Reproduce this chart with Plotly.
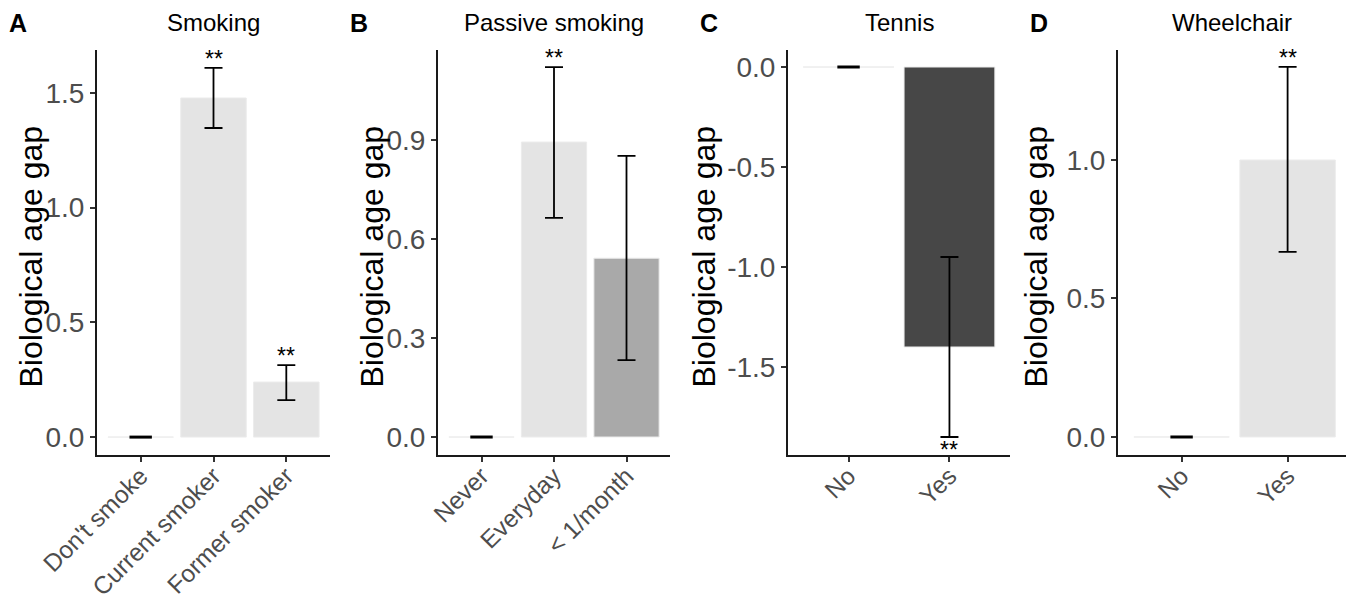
import plotly.graph_objects as go

# ---------------- data ----------------
smoking_cats = ["Don't smoke", "Current smoker", "Former smoker"]
smoking_vals = [0.0, 1.478, 0.240]
smoking_lo = [0.0, 1.347, 0.161]
smoking_hi = [0.0, 1.609, 0.314]
smoking_sig = ["", "**", "**"]

passive_cats = ["Never", "Everyday", "< 1/month"]
passive_vals = [0.0, 0.894, 0.542]
passive_lo = [0.0, 0.664, 0.233]
passive_hi = [0.0, 1.121, 0.852]
passive_sig = ["", "**", ""]

tennis_cats = ["No", "Yes"]
tennis_vals = [0.0, -1.40]
tennis_lo = [0.0, -1.85]
tennis_hi = [0.0, -0.95]
tennis_sig = ["", "**"]

wheel_cats = ["No", "Yes"]
wheel_vals = [0.0, 1.0]
wheel_lo = [0.0, 0.668]
wheel_hi = [0.0, 1.336]
wheel_sig = ["", "**"]

panel_titles = ["Smoking", "Passive smoking", "Tennis", "Wheelchair"]
panel_letters = ["A", "B", "C", "D"]
y_ticks = [[0, 0.5, 1.0, 1.5], [0, 0.3, 0.6, 0.9], [0, -0.5, -1.0, -1.5], [0, 0.5, 1.0]]

# ---------------- styles ----------------
W, H = 1346, 601
bar_colors = [
    ["#ececec", "#e4e4e4", "#e4e4e4"],
    ["#ececec", "#e4e4e4", "#a9a9a9"],
    ["#ececec", "#474747"],
    ["#ececec", "#e4e4e4"],
]
x_px = [(97, 330), (438, 670), (788, 1010), (1118, 1346)]
y_px = (50, 455)
y_ranges = [[-0.078, 1.687], [-0.0545, 1.173], [-1.94, 0.085], [-0.065, 1.397]]
x_ranges = [[-0.6, 2.6], [-0.6, 2.6], [-0.6, 1.6], [-0.6, -0.6 + (1346 - 1118) / 106.0]]
ytitle_x = [30, 371, 703, 1035]
sig_below = [False, False, True, False]

panels = [
    (smoking_cats, smoking_vals, smoking_lo, smoking_hi, smoking_sig),
    (passive_cats, passive_vals, passive_lo, passive_hi, passive_sig),
    (tennis_cats, tennis_vals, tennis_lo, tennis_hi, tennis_sig),
    (wheel_cats, wheel_vals, wheel_lo, wheel_hi, wheel_sig),
]

FONT = "Liberation Sans, Arial, Helvetica, sans-serif"
fig = go.Figure()
annotations = []
layout = {}

for i, (cats, vals, lo, hi, sig) in enumerate(panels):
    n = "" if i == 0 else str(i + 1)
    xa, ya = "x" + n, "y" + n
    # bars
    fig.add_trace(go.Bar(
        x=cats, y=vals, xaxis=xa, yaxis=ya, width=0.9,
        marker=dict(color=bar_colors[i], line=dict(color="#ececec", width=1)),
        showlegend=False, hoverinfo="skip",
    ))
    # error bars for non-reference categories
    ex, ey, ep, em = [], [], [], []
    rx, ry = [], []
    for c, v, l, h in zip(cats, vals, lo, hi):
        if h - l > 0:
            ex.append(c); ey.append(v); ep.append(h - v); em.append(v - l)
        else:
            rx.append(c); ry.append(v)
    fig.add_trace(go.Scatter(
        x=ex, y=ey, xaxis=xa, yaxis=ya, mode="markers",
        marker=dict(size=1, opacity=0),
        error_y=dict(type="data", array=ep, arrayminus=em, symmetric=False,
                     color="black", thickness=1.8, width=9),
        showlegend=False, hoverinfo="skip",
    ))
    # reference dash (zero-width interval)
    fig.add_trace(go.Scatter(
        x=rx, y=ry, xaxis=xa, yaxis=ya, mode="markers",
        marker=dict(symbol="line-ew", size=16, line=dict(color="black", width=3)),
        showlegend=False, hoverinfo="skip",
    ))
    # significance stars
    for c, l, h, s in zip(cats, lo, hi, sig):
        if s:
            if sig_below[i]:
                annotations.append(dict(x=c, y=l, xref=xa, yref=ya, text=s, showarrow=False,
                                        yanchor="top", yshift=2, font=dict(size=23, color="black", family=FONT)))
            else:
                annotations.append(dict(x=c, y=h, xref=xa, yref=ya, text=s, showarrow=False,
                                        yanchor="bottom", yshift=-6, font=dict(size=23, color="black", family=FONT)))

    x0, x1 = x_px[i]
    layout["xaxis" + n] = dict(
        domain=[x0 / W, x1 / W], range=x_ranges[i], anchor=ya, automargin=False,
        showline=True, linecolor="#1a1a1a", linewidth=2, mirror=False,
        ticks="outside", ticklen=5, tickwidth=1.5, tickcolor="#333333",
        tickangle=-45, tickfont=dict(size=24.5, color="#4d4d4d", family=FONT),
        ticklabelstandoff=-10,
        showgrid=False, zeroline=False, fixedrange=True,
    )
    layout["yaxis" + n] = dict(
        domain=[1 - y_px[1] / H, 1 - y_px[0] / H], range=y_ranges[i], anchor=xa, automargin=False,
        showline=True, linecolor="#1a1a1a", linewidth=2,
        ticks="outside", ticklen=5, tickwidth=1.5, tickcolor="#333333",
        tickvals=y_ticks[i], ticktext=["%.1f" % t for t in y_ticks[i]],
        tickfont=dict(size=28, color="#4d4d4d", family=FONT),
        showgrid=False, zeroline=False, fixedrange=True,
    )
    # panel title and letter
    annotations.append(dict(x=(x0 + x1) / 2 / W, y=1 - 23 / H, xref="paper", yref="paper",
                            text=panel_titles[i], showarrow=False, xanchor="center", yanchor="middle",
                            font=dict(size=24, color="black", family=FONT)))
    annotations.append(dict(x=(x0 - 79) / W, y=1 - 23 / H, xref="paper", yref="paper",
                            text="<b>%s</b>" % panel_letters[i], showarrow=False, xanchor="center",
                            yanchor="middle", font=dict(size=25, color="black", family=FONT)))
    # y axis title
    annotations.append(dict(x=ytitle_x[i] / W, y=1 - ((y_px[0] + y_px[1]) / 2 + 4) / H,
                            xref="paper", yref="paper", text="Biological age gap", textangle=-90,
                            showarrow=False, xanchor="center", yanchor="middle",
                            font=dict(size=32, color="black", family=FONT)))

fig.update_layout(
    width=W, height=H, margin=dict(l=0, r=0, t=0, b=0, autoexpand=False),
    paper_bgcolor="white", plot_bgcolor="white",
    annotations=annotations, bargap=0.1, **layout,
)
fig.write_html(
    "out.html",
    config={"displayModeBar": False},
    post_script="document.body.style.margin='0';document.body.style.padding='0';"
                "document.body.style.overflow='hidden';",
)
